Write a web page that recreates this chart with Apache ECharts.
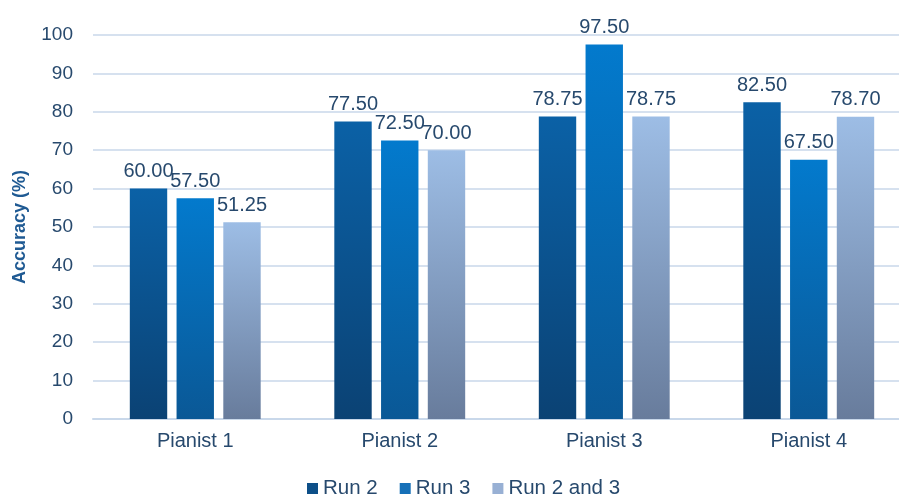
<!DOCTYPE html>
<html>
<head>
<meta charset="utf-8">
<script src="https://cdn.jsdelivr.net/npm/echarts@6/dist/echarts.min.js"></script>
<style>
  html, body { margin: 0; padding: 0; background: #ffffff; overflow: hidden; }
  /* plot area runs slightly past the right edge of the window */
  #chart { width: 911px; height: 498px; }
</style>
</head>
<body>
<div id="chart"></div>
<script>
// Accuracy per pianist for each recognition run
const categories = ['Pianist 1', 'Pianist 2', 'Pianist 3', 'Pianist 4'];
const run2 = [60.00, 77.50, 78.75, 82.50];
const run3 = [57.50, 72.50, 97.50, 67.50];
const run23 = [51.25, 70.00, 78.75, 78.70];
const yTicks = { min: 0, max: 100, interval: 10 };

const textColor = '#27496d';
const font = 'Liberation Sans, Arial, sans-serif';

function grad(top, bottom) {
  return new echarts.graphic.LinearGradient(0, 0, 0, 1, [
    { offset: 0, color: top },
    { offset: 1, color: bottom }
  ]);
}

function barSeries(name, data, top, bottom) {
  return {
    name: name,
    type: 'bar',
    data: data,
    barGap: '25%',
    barCategoryGap: '36%',
    itemStyle: { color: grad(top, bottom) },
    label: {
      show: true,
      position: 'top',
      distance: 7,
      color: textColor,
      fontSize: 20,
      fontFamily: font,
      formatter: p => p.value.toFixed(2)
    },
    emphasis: { disabled: true }
  };
}

const chart = echarts.init(document.getElementById('chart'), null, { renderer: 'canvas' });

chart.setOption({
  animation: false,
  backgroundColor: '#ffffff',
  grid: { left: 93, right: 0, top: 35, bottom: 79, containLabel: false },
  legend: {
    top: 473,
    left: 302,
    itemWidth: 11,
    itemHeight: 11,
    itemGap: 22,
    icon: 'rect',
    textStyle: { color: textColor, fontSize: 20.5, fontFamily: font, padding: [0, 0, 0, 0] },
    data: [
      { name: 'Run 2', itemStyle: { color: '#0d4f88' } },
      { name: 'Run 3', itemStyle: { color: '#1670b8' } },
      { name: 'Run 2 and 3', itemStyle: { color: '#98b0d4' } }
    ]
  },
  xAxis: {
    type: 'category',
    data: categories,
    axisTick: { show: false },
    axisLine: { show: true, lineStyle: { color: '#c9d8ea', width: 2 } },
    axisLabel: {
      color: textColor,
      fontSize: 20,
      margin: 12,
      fontFamily: font
    }
  },
  yAxis: {
    type: 'value',
    min: yTicks.min,
    max: yTicks.max,
    interval: yTicks.interval,
    name: 'Accuracy (%)',
    nameLocation: 'middle',
    nameGap: 64,
    nameTextStyle: {
      color: '#1f5a93',
      fontSize: 18,
      fontWeight: 'bold',
      fontFamily: font
    },
    axisLine: { show: false },
    axisTick: { show: false },
    axisLabel: {
      color: textColor,
      fontSize: 19,
      margin: 20,
      fontFamily: font
    },
    splitLine: { lineStyle: { color: '#d6e1ef', width: 2 } }
  },
  series: [
    barSeries('Run 2', run2, '#0b61a6', '#0b4274'),
    barSeries('Run 3', run3, '#037acd', '#0a5896'),
    barSeries('Run 2 and 3', run23, '#9dbde5', '#687c9c')
  ]
});
</script>
</body>
</html>
